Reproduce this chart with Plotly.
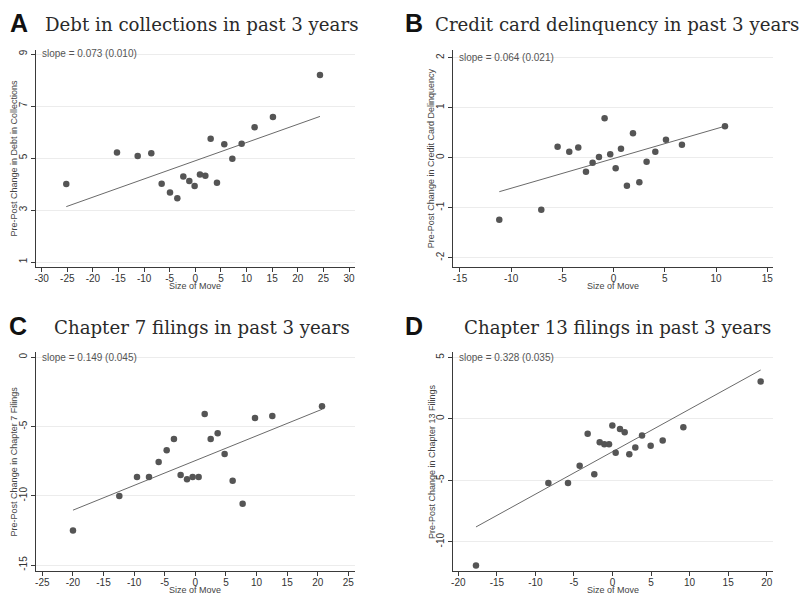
import plotly.graph_objects as go

W, H = 804, 594

# ---------------- data ----------------
a_x = [-25.2, -15.3, -11.26, -8.6, -6.58, -4.95, -3.52, -2.35, -1.18, -0.14,
       0.9, 1.95, 2.99, 4.22, 5.65, 7.22, 9.04, 11.57, 15.15, 24.33]
a_y = [4.0, 5.21, 5.08, 5.18, 4.01, 3.67, 3.45, 4.29, 4.12, 3.92,
       4.37, 4.32, 5.74, 4.05, 5.53, 4.97, 5.55, 6.18, 6.58, 8.19]
a_fit_x = [-25.2, 24.33]
a_fit_y = [3.13, 6.60]

b_x = [-11.16, -7.06, -5.47, -4.33, -3.45, -2.70, -2.05, -1.43, -0.88, -0.33,
       0.2, 0.72, 1.30, 1.89, 2.51, 3.22, 4.07, 5.11, 6.67, 10.87]
b_y = [-1.24, -1.04, 0.22, 0.12, 0.205, -0.28, -0.10, 0.013, 0.79, 0.07,
       -0.21, 0.18, -0.56, 0.49, -0.49, -0.08, 0.12, 0.36, 0.26, 0.63]
b_fit_x = [-11.16, 10.87]
b_fit_y = [-0.68, 0.63]

c_x = [-19.99, -12.42, -9.53, -7.57, -5.99, -4.68, -3.49, -2.40, -1.36, -0.44,
       0.54, 1.53, 2.51, 3.65, 4.79, 6.10, 7.73, 9.75, 12.58, 20.70]
c_y = [-12.5, -10.02, -8.65, -8.65, -7.57, -6.72, -5.90, -8.51, -8.80, -8.65,
       -8.65, -4.10, -5.90, -5.49, -6.99, -8.92, -10.58, -4.39, -4.24, -3.54]
c_fit_x = [-19.99, 20.70]
c_fit_y = [-11.04, -3.76]

d_x = [-17.71, -8.32, -5.77, -4.26, -3.22, -2.36, -1.66, -1.06, -0.45, -0.02,
       0.41, 0.97, 1.58, 2.18, 2.96, 3.83, 4.95, 6.51, 9.19, 19.22]
d_y = [-11.93, -5.22, -5.22, -3.83, -1.22, -4.51, -1.90, -2.07, -2.07, -0.54,
       -2.77, -0.82, -1.09, -2.88, -2.34, -1.36, -2.20, -1.77, -0.68, 3.04]
d_fit_x = [-17.71, 19.22]
d_fit_y = [-8.80, 3.97]

letters = ["A", "B", "C", "D"]
titles = ["Debt in collections in past 3 years",
          "Credit card delinquency in past 3 years",
          "Chapter 7 filings in past 3 years",
          "Chapter 13 filings in past 3 years"]
slopes = ["slope = 0.073 (0.010)", "slope = 0.064 (0.021)",
          "slope = 0.149 (0.045)", "slope = 0.328 (0.035)"]
y_titles = ["Pre-Post Change in Debt in Collections",
            "Pre-Post Change in Credit Card Delinquency",
            "Pre-Post Change in Chapter 7 Filings",
            "Pre-Post Change in Chapter 13 Filings"]
x_title = "Size of Move"

a_xticks = [-30, -25, -20, -15, -10, -5, 0, 5, 10, 15, 20, 25, 30]
a_yticks = [1, 3, 5, 7, 9]
b_xticks = [-15, -10, -5, 0, 5, 10, 15]
b_yticks = [-2, -1, 0, 1, 2]
c_xticks = [-25, -20, -15, -10, -5, 0, 5, 10, 15, 20, 25]
c_yticks = [-15, -10, -5, 0]
d_xticks = [-20, -15, -10, -5, 0, 5, 10, 15, 20]
d_yticks = [-10, -5, 0, 5]

# ---------------- layout geometry (pixels) ----------------
panels = [
    dict(x=a_x, y=a_y, fx=a_fit_x, fy=a_fit_y, xt=a_xticks, yt=a_yticks,
         xr=[-31.17, 31.17], yr=[0.82, 9.154], px=(35.7, 355), py=(50, 266.7)),
    dict(x=b_x, y=b_y, fx=b_fit_x, fy=b_fit_y, xt=b_xticks, yt=b_yticks,
         xr=[-15.65, 15.53], yr=[-2.18, 2.154], px=(453.3, 772.7), py=(50, 266.7)),
    dict(x=c_x, y=c_y, fx=c_fit_x, fy=c_fit_y, xt=c_xticks, yt=c_yticks,
         xr=[-26.08, 26.09], yr=[-15.41, 0.40], px=(35.7, 355), py=(351.7, 570.7)),
    dict(x=d_x, y=d_y, fx=d_fit_x, fy=d_fit_y, xt=d_xticks, yt=d_yticks,
         xr=[-20.65, 20.78], yr=[-12.36, 5.46], px=(453.3, 772.7), py=(351.7, 570.7)),
]

def px2x(p):
    return p / W

def px2y(p):
    return 1 - p / H

fig = go.Figure()
annotations = []
layout_axes = {}
GRID = "#ececec"
AXIS = "#3a3a3a"
MARK = "#555555"
TEXT = "#333333"
sans = "Liberation Sans, Arial, sans-serif"
serif = "DejaVu Serif, serif"

title_centers = [202, 617, 202, 617]
letter_x = [8, 403, 7, 403]

for i, p in enumerate(panels):
    n = i + 1
    xa = "x" if n == 1 else f"x{n}"
    ya = "y" if n == 1 else f"y{n}"
    fig.add_trace(go.Scatter(x=p["fx"], y=p["fy"], mode="lines",
                             line=dict(color="#6a6a6a", width=1),
                             xaxis=xa, yaxis=ya, showlegend=False, hoverinfo="skip"))
    fig.add_trace(go.Scatter(x=p["x"], y=p["y"], mode="markers",
                             marker=dict(color=MARK, size=6.5, line=dict(width=0)),
                             xaxis=xa, yaxis=ya, showlegend=False))
    xkey = "xaxis" if n == 1 else f"xaxis{n}"
    ykey = "yaxis" if n == 1 else f"yaxis{n}"
    layout_axes[xkey] = dict(
        domain=[px2x(p["px"][0]), px2x(p["px"][1])], range=p["xr"],
        anchor=ya, tickmode="array", tickvals=p["xt"],
        ticktext=[str(v) for v in p["xt"]],
        showgrid=False, zeroline=False, showline=True, linecolor=AXIS, linewidth=1.3,
        ticks="outside", ticklen=4, tickwidth=1, tickcolor=AXIS,
        ticklabelstandoff=-2,
        tickfont=dict(family=sans, size=10, color=TEXT), fixedrange=True,
        automargin=False)
    layout_axes[ykey] = dict(
        domain=[px2y(p["py"][1]), px2y(p["py"][0])], range=p["yr"],
        anchor=xa, tickmode="array", tickvals=p["yt"],
        ticktext=[str(v) for v in p["yt"]], tickangle=-90,
        showgrid=True, gridcolor=GRID, gridwidth=1, zeroline=False,
        showline=True, linecolor=AXIS, linewidth=1.3,
        ticks="outside", ticklen=4, tickwidth=1, tickcolor=AXIS,
        tickfont=dict(family=sans, size=10, color=TEXT), fixedrange=True,
        automargin=False)

    x0, x1 = p["px"]
    y0, y1 = p["py"]
    ly = 23 if i < 2 else 326
    annotations.append(dict(text="<b>" + letters[i] + "</b>", x=px2x(letter_x[i]),
                            y=px2y(ly), xref="paper", yref="paper",
                            xanchor="left", yanchor="middle", showarrow=False,
                            font=dict(family=sans, size=25, color="#111111")))
    ty = 24.5 if i < 2 else 327.5
    annotations.append(dict(text=titles[i], x=px2x(title_centers[i]), y=px2y(ty),
                            xref="paper", yref="paper", xanchor="center",
                            yanchor="middle", showarrow=False,
                            font=dict(family=serif, size=18.2, color="#2a2a2a")))
    annotations.append(dict(text=slopes[i], x=px2x(x0 + 4), y=p["yt"][-1],
                            xref="paper", yref=ya, xanchor="left", yanchor="middle",
                            showarrow=False,
                            font=dict(family=sans, size=10, color="#555555")))
    annotations.append(dict(text=y_titles[i], x=px2x(x0 - 21.5), y=px2y((y0 + y1) / 2),
                            xref="paper", yref="paper", xanchor="center",
                            yanchor="middle", textangle=-90, showarrow=False,
                            font=dict(family=sans, size=9, color="#444444")))
    annotations.append(dict(text=x_title, x=px2x((x0 + x1) / 2), y=px2y(y1 + 19.5),
                            xref="paper", yref="paper", xanchor="center",
                            yanchor="middle", showarrow=False,
                            font=dict(family=sans, size=9, color="#444444")))

fig.update_layout(width=W, height=H, margin=dict(l=0, r=0, t=0, b=0, pad=0),
                  paper_bgcolor="white", plot_bgcolor="white",
                  annotations=annotations, showlegend=False, **layout_axes)

fig.write_html("out.html", config={"displayModeBar": False},
               post_script="document.body.style.margin='0';document.body.style.padding='0';")
